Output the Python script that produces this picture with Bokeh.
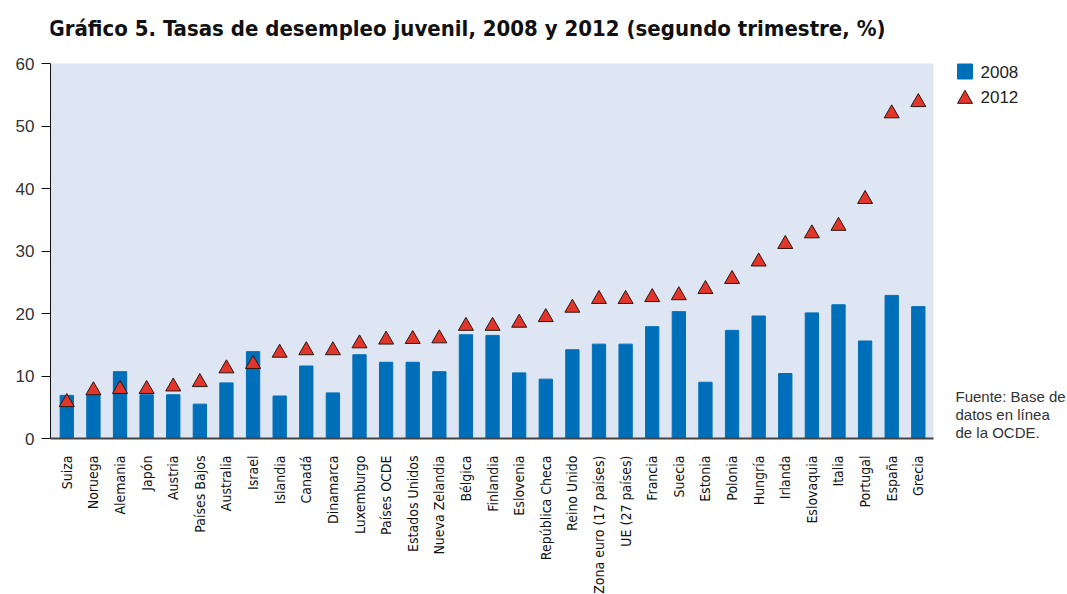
from bokeh.plotting import figure
from bokeh.models import Range1d, FixedTicker, Label, BoxAnnotation
from bokeh.embed import file_html
from bokeh.resources import INLINE

# Youth unemployment rates, second quarter (%)
countries = [
    "Suiza", "Noruega", "Alemania", "Japón", "Austria", "Países Bajos",
    "Australia", "Israel", "Islandia", "Canadá", "Dinamarca", "Luxemburgo",
    "Países OCDE", "Estados Unidos", "Nueva Zelandia", "Bélgica", "Finlandia",
    "Eslovenia", "República Checa", "Reino Unido", "Zona euro (17 países)",
    "UE (27 países)", "Francia", "Suecia", "Estonia", "Polonia", "Hungría",
    "Irlanda", "Eslovaquia", "Italia", "Portugal", "España", "Grecia",
]
rate_2008 = [
    6.9, 7.0, 10.7, 7.0, 7.0, 5.5, 8.9, 13.9, 6.8, 11.6, 7.3, 13.4,
    12.2, 12.2, 10.7, 16.6, 16.5, 10.5, 9.5, 14.2, 15.1, 15.1, 17.9, 20.3,
    9.0, 17.3, 19.6, 10.4, 20.1, 21.4, 15.6, 22.9, 21.1,
]
rate_2012 = [
    5.8, 7.7, 7.9, 7.9, 8.3, 9.0, 11.2, 11.9, 13.7, 14.1, 14.1, 15.2,
    15.8, 15.9, 16.0, 18.0, 18.0, 18.5, 19.4, 20.9, 22.3, 22.3, 22.6, 22.9,
    23.9, 25.5, 28.3, 31.1, 32.8, 34.0, 38.3, 52.0, 53.8,
]
y_ticks = [0, 10, 20, 30, 40, 50, 60]
series_names = ["2008", "2012"]
title_text = "Gráfico 5. Tasas de desempleo juvenil, 2008 y 2012 (segundo trimestre, %)"
source_lines = ["Fuente: Base de", "datos en línea", "de la OCDE."]

BAR_COLOR = "#006fb9"
TRI_FILL = "#e2362b"
TRI_LINE = "#2b1712"
BG = "#dfe6f3"
NARROW = "DejaVu Sans Condensed, Roboto, sans-serif"
PLAIN = "Liberation Sans, sans-serif"

W, H = 1067, 594
# The frame spans the whole page right of the value axis and above the
# category labels, so the title, key and note can sit inside it.
FX0, FX1, FY0, FY1 = 50, W, 0, 438
PX_X0, PX_PER_X = 66.3, 26.61   # pixel of the first category, pixels per category
PX_PER_Y = 6.25                 # pixels per percentage point


def to_x(px):
    return (px - PX_X0) / PX_PER_X


def to_y(py):
    return (FY1 - py) / PX_PER_Y


X_START, X_END = to_x(FX0), to_x(FX1)
Y_START, Y_END = to_y(FY1), to_y(FY0)
DATA_RIGHT = to_x(933)
Y_MAX = y_ticks[-1]

p = figure(
    width=W, height=H,
    frame_width=FX1 - FX0, frame_height=FY1 - FY0,
    min_border_left=FX0, min_border_top=FY0,
    min_border_right=W - FX1, min_border_bottom=H - FY1,
    x_range=Range1d(X_START, X_END), y_range=Range1d(Y_START, Y_END),
    output_backend="svg", toolbar_location=None,
    background_fill_color="white", border_fill_color="white",
)
p.outline_line_color = None
p.xgrid.visible = False
p.ygrid.visible = False

# shaded plotting area
p.add_layout(BoxAnnotation(left=X_START, right=DATA_RIGHT, bottom=0, top=Y_MAX,
                           fill_color=BG, fill_alpha=1.0, line_color=None,
                           level="underlay"))

xs = list(range(len(countries)))
bars = p.vbar(x=xs, top=rate_2008, width=0.5, fill_color=BAR_COLOR,
              line_color=BAR_COLOR)
tris = p.scatter(x=xs, y=rate_2012, marker="triangle", size=15,
                 fill_color=TRI_FILL, line_color=TRI_LINE, line_width=1)

# axes
xa = p.xaxis[0]
xa.bounds = (X_START, DATA_RIGHT)
xa.ticker = FixedTicker(ticks=xs)
xa.major_label_overrides = {i: c for i, c in enumerate(countries)}
xa.major_label_orientation = 3.14159265 / 2
xa.major_tick_line_color = None
xa.minor_tick_line_color = None
xa.axis_line_color = "#444444"
xa.axis_line_width = 2
xa.major_label_standoff = 11
xa.major_label_text_font = NARROW
xa.major_label_text_font_size = "14px"
xa.major_label_text_color = "#111111"

ya = p.yaxis[0]
ya.bounds = (0, Y_MAX)
ya.ticker = FixedTicker(ticks=y_ticks)
ya.minor_tick_line_color = None
ya.axis_line_color = "#111111"
ya.major_tick_line_color = "#111111"
ya.major_tick_out = 9
ya.major_tick_in = 0
ya.major_label_standoff = 7
ya.major_label_text_font = PLAIN
ya.major_label_text_font_size = "17px"
ya.major_label_text_color = "#333333"

# title
p.add_layout(Label(
    x=to_x(48), y=to_y(27.5), text=title_text,
    text_font=NARROW, text_font_style="bold",
    text_font_size="22px", text_color="#111111", text_baseline="alphabetic",
))

# key
key_x = to_x(964.5)
p.scatter(x=[key_x], y=[to_y(71)], marker="square", size=15,
          fill_color=BAR_COLOR, line_color=BAR_COLOR)
p.scatter(x=[key_x], y=[to_y(98.5)], marker="triangle", size=15,
          fill_color=TRI_FILL, line_color=TRI_LINE, line_width=1)
for name, base in zip(series_names, (71.7, 96.7)):
    p.add_layout(Label(
        x=to_x(980), y=to_y(base), text=name, text_font=PLAIN,
        text_font_size="17px", text_color="#222222", text_baseline="alphabetic",
    ))

# source note
for line, base in zip(source_lines, (396, 414, 432)):
    p.add_layout(Label(
        x=to_x(955), y=to_y(base), text=line, text_font=PLAIN,
        text_font_size="15px", text_color="#333333", text_baseline="alphabetic",
    ))

open("out.html", "w").write(file_html(p, INLINE))
